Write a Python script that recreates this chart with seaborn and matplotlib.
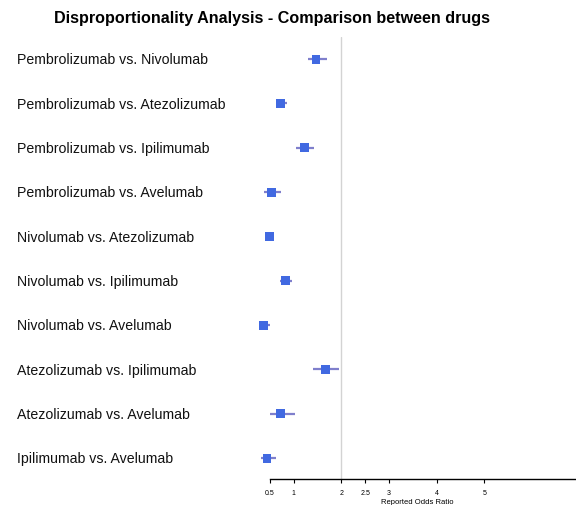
import numpy as np
import pandas as pd
import seaborn as sns
import matplotlib.pyplot as plt
from matplotlib.transforms import blended_transform_factory

pairs = ['Pembrolizumab vs. Nivolumab',
         'Pembrolizumab vs. Atezolizumab',
         'Pembrolizumab vs. Ipilimumab',
         'Pembrolizumab vs. Avelumab',
         'Nivolumab vs. Atezolizumab',
         'Nivolumab vs. Ipilimumab',
         'Nivolumab vs. Avelumab',
         'Atezolizumab vs. Ipilimumab',
         'Atezolizumab vs. Avelumab',
         'Ipilimumab vs. Avelumab']
odds_ratio = [1.47, 0.73, 1.22, 0.54, 0.50, 0.83, 0.37, 1.66, 0.73, 0.44]
ci_low = [1.30, 0.62, 1.05, 0.37, 0.46, 0.71, 0.27, 1.40, 0.51, 0.31]
ci_high = [1.69, 0.86, 1.43, 0.74, 0.54, 0.97, 0.51, 1.96, 1.02, 0.63]
tick_values = [0.5, 1, 2, 2.5, 3, 4, 5]

df = pd.DataFrame({'pair': pairs, 'or': odds_ratio, 'lo': ci_low, 'hi': ci_high})
df['pos'] = np.arange(len(df))

sns.set_style('white')
plt.rcParams['font.family'] = ['Liberation Sans', 'DejaVu Sans']

fig = plt.figure(figsize=(5.76, 5.05), dpi=100)
ax = fig.add_axes([246 / 576, 26 / 505, 330 / 576, 442 / 505])

# reference line
ax.axvline(2, color='#d3d3d3', lw=1, zorder=0)

# confidence intervals + point estimates
ax.hlines(df['pos'], df['lo'], df['hi'], color='#7f7fcc', lw=1.6, zorder=1)
sns.scatterplot(data=df, x='or', y='pos', marker='s', s=40, color='#4169e1',
                edgecolor='none', ax=ax, zorder=2)

ax.set_xlim(0, 6.92)
ax.set_ylim(9.47, -0.5)

# row labels on the left
trans = blended_transform_factory(fig.transFigure, ax.transData)
for p, name in zip(df['pos'], df['pair']):
    ax.text(17 / 576, p + 0.03, name, transform=trans, ha='left', va='center',
            fontsize=10.2, color='#111111')

for side in ['left', 'top', 'right']:
    ax.spines[side].set_visible(False)
ax.spines['bottom'].set_bounds(0.5, 6.92)
ax.spines['bottom'].set_color('black')
ax.spines['bottom'].set_linewidth(1)

ax.set_yticks([])
ax.set_xticks(tick_values)
ax.set_xticklabels([str(t) for t in tick_values])
ax.tick_params(axis='x', direction='out', length=3, width=0.8, color='black',
               labelsize=5, labelcolor='black', pad=5, bottom=True)

ax.set_xlabel('Reported Odds Ratio', fontsize=5.5, color='black')
ax.xaxis.set_label_coords(0.52, -0.045)
ax.set_ylabel('')

fig.text(272 / 576, 1 - 18 / 505, 'Disproportionality Analysis - Comparison between drugs',
         ha='center', va='center', fontsize=11.6, fontweight='bold', color='black')

fig.savefig('out.png', dpi=100)
